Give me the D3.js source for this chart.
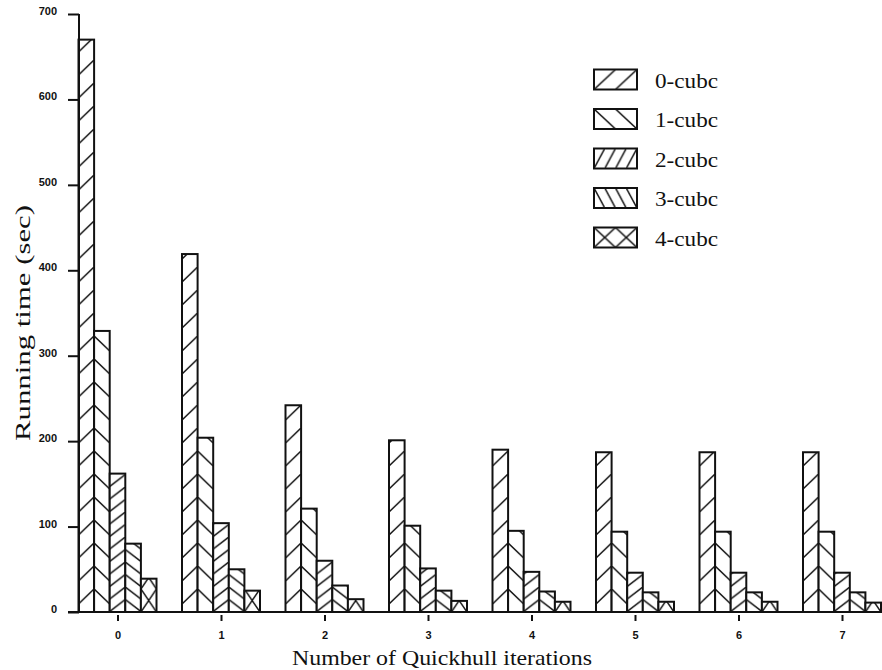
<!DOCTYPE html>
<meta charset="utf-8">
<head>
	<title>Running time vs Quickhull iterations</title>
</head>

<style>
body { margin: 0; background: #fff; }
svg { display: block; background: #fff; }
.tick text { font-family: "Liberation Sans", Arial, sans-serif; font-size: 11px; font-weight: bold; fill: #111; }
.tick line { stroke: #111; stroke-width: 2; }
.label { font-family: "Liberation Serif", "Times New Roman", serif; font-size: 21px; fill: #111; }
.legend text { font-family: "Liberation Serif", "Times New Roman", serif; font-size: 21px; fill: #111; }
</style>

<body>
<svg id="chart" width="882" height="670"></svg>

<script src="https://cdnjs.cloudflare.com/ajax/libs/d3/7.8.5/d3.min.js"></script>
<script>

// data
var categories = ['0', '1', '2', '3', '4', '5', '6', '7'];
var seriesNames = ['0-cubc', '1-cubc', '2-cubc', '3-cubc', '4-cubc'];
var cube0 = [670, 419, 242, 201, 190, 187, 187, 187];
var cube1 = [329, 204, 121, 101, 95, 94, 94, 94];
var cube2 = [162, 104, 60, 51, 47, 46, 46, 46];
var cube3 = [80, 50, 31, 25, 24, 23, 23, 23];
var cube4 = [39, 25, 15, 13, 12, 12, 12, 11];
var yTicks = [0, 100, 200, 300, 400, 500, 600, 700];

var seriesValues = [cube0, cube1, cube2, cube3, cube4];

var svg = d3.select('#chart');
var ink = '#111';

// scales
var y = d3.scaleLinear().domain([0, 700]).range([612, 14]);
var x = d3.scalePoint().domain(categories).range([117.5, 842]);
var inner = d3.scaleBand().domain(seriesNames).range([-39, 39]);
var bw = inner.bandwidth();

// hatch patterns: kind 'up' = /, 'down' = \, 'cross' = X
var hatch = [
	{kind: 'up', period: 23, rise: 15},
	{kind: 'down', period: 23, rise: 15},
	{kind: 'up', period: 12.5, rise: 12},
	{kind: 'down', period: 12.5, rise: 12},
	{kind: 'cross', period: 23, rise: 23}
];
var legendTile = [21.5, 21.5, 10.75, 10.75, 21.5];

var defs = svg.append('defs');

function hatchPath(kind, w, h, rise) {
	if (kind === 'up') return 'M0,' + rise + 'L' + w + ',0';
	if (kind === 'down') return 'M0,0L' + w + ',' + rise;
	return 'M0,0L' + w + ',' + h + 'M0,' + h + 'L' + w + ',0';
}

function makePattern(id, w, h, kind, rise, ty) {
	var p = defs.append('pattern')
		.attr('id', id)
		.attr('patternUnits', 'userSpaceOnUse')
		.attr('width', w)
		.attr('height', h)
		.attr('patternTransform', 'translate(0,' + ty + ')');
	p.append('rect').attr('width', w).attr('height', h).attr('fill', '#fff');
	p.append('path')
		.attr('d', hatchPath(kind, w, h, rise))
		.attr('stroke', ink)
		.attr('stroke-width', 1.5)
		.attr('fill', 'none');
}

hatch.forEach(function(hp, i) {
	makePattern('bar' + i, bw, hp.period, hp.kind, hp.rise, y(0));
	makePattern('leg' + i, legendTile[i], 20, hp.kind, 20, 0);
});

// bars, each bar in its own group so the pattern starts at its left edge
var groups = svg.append('g')
	.selectAll('.group')
	.data(categories)
	.enter()
	.append('g')
	.attr('class', 'group');

groups.selectAll('g.bar')
	.data(function(c, ci) {
		return seriesNames.map(function(s, si) {
			return {series: s, si: si, value: seriesValues[si][ci], cat: c};
		});
	})
	.enter()
	.append('g')
	.attr('class', 'bar')
	.attr('transform', function(d) {
		return 'translate(' + (x(d.cat) + inner(d.series)) + ',0)';
	})
	.append('rect')
	.attr('x', 0)
	.attr('y', function(d) { return y(d.value); })
	.attr('width', bw)
	.attr('height', function(d) { return y(0) - y(d.value); })
	.attr('fill', function(d) { return 'url(#bar' + d.si + ')'; })
	.attr('stroke', ink)
	.attr('stroke-width', 2);

// y axis
var yAxis = svg.append('g')
	.attr('transform', 'translate(79,0)')
	.call(d3.axisLeft(y).tickValues(yTicks).tickSize(11).tickPadding(11));
yAxis.select('.domain').remove();
yAxis.selectAll('.tick text').attr('dy', '0.05em');
svg.append('line')
	.attr('x1', 79).attr('x2', 79)
	.attr('y1', y(700)).attr('y2', y(0))
	.attr('stroke', ink).attr('stroke-width', 2);

// x axis
var xAxis = svg.append('g')
	.attr('transform', 'translate(0,' + y(0) + ')')
	.call(d3.axisBottom(x).tickSize(9).tickPadding(10));
xAxis.select('.domain').remove();
xAxis.selectAll('.tick line').attr('y1', 3);
svg.append('line')
	.attr('x1', 68).attr('x2', 882)
	.attr('y1', y(0)).attr('y2', y(0))
	.attr('stroke', ink).attr('stroke-width', 2);

// axis titles
svg.append('text')
	.attr('class', 'label')
	.attr('transform', 'translate(30,323) rotate(-90)')
	.attr('text-anchor', 'middle')
	.attr('textLength', 236)
	.attr('lengthAdjust', 'spacingAndGlyphs')
	.text('Running time (sec)');

svg.append('text')
	.attr('class', 'label')
	.attr('x', 442)
	.attr('y', 665)
	.attr('text-anchor', 'middle')
	.attr('textLength', 300)
	.attr('lengthAdjust', 'spacingAndGlyphs')
	.text('Number of Quickhull iterations');

// legend
var legend = svg.append('g')
	.attr('class', 'legend')
	.selectAll('g')
	.data(seriesNames)
	.enter()
	.append('g')
	.attr('transform', function(d, i) {
		return 'translate(594,' + (69.5 + i * 39.5) + ')';
	});

legend.append('rect')
	.attr('width', 43)
	.attr('height', 20)
	.attr('fill', function(d, i) { return 'url(#leg' + i + ')'; })
	.attr('stroke', ink)
	.attr('stroke-width', 2);

legend.append('text')
	.attr('x', 61)
	.attr('y', 18)
	.attr('textLength', 63)
	.attr('lengthAdjust', 'spacingAndGlyphs')
	.text(function(d) { return d; });

</script>
</body>
</html>
